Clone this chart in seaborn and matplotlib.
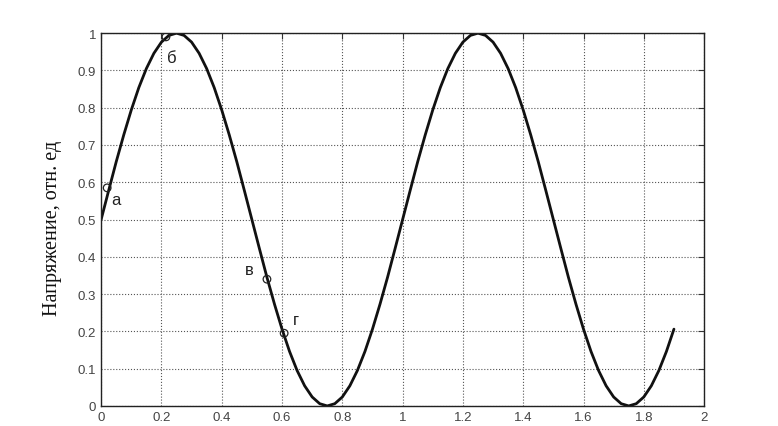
import numpy as np
import pandas as pd
import matplotlib
matplotlib.use('Agg')
import matplotlib.pyplot as plt
import seaborn as sns

## данные
t = [0.0, 0.025, 0.05, 0.075, 0.1, 0.125, 0.15, 0.175, 0.2, 0.225,
     0.25, 0.275, 0.3, 0.325, 0.35, 0.375, 0.4, 0.425, 0.45, 0.475,
     0.5, 0.525, 0.55, 0.575, 0.6, 0.625, 0.65, 0.675, 0.7, 0.725,
     0.75, 0.775, 0.8, 0.825, 0.85, 0.875, 0.9, 0.925, 0.95, 0.975,
     1.0, 1.025, 1.05, 1.075, 1.1, 1.125, 1.15, 1.175, 1.2, 1.225,
     1.25, 1.275, 1.3, 1.325, 1.35, 1.375, 1.4, 1.425, 1.45, 1.475,
     1.5, 1.525, 1.55, 1.575, 1.6, 1.625, 1.65, 1.675, 1.7, 1.725,
     1.75, 1.775, 1.8, 1.825, 1.85, 1.875, 1.9]
u = [0.5, 0.578, 0.655, 0.727, 0.794, 0.854, 0.905, 0.946, 0.976, 0.994,
     1.0, 0.994, 0.976, 0.946, 0.905, 0.854, 0.794, 0.727, 0.655, 0.578,
     0.5, 0.422, 0.345, 0.273, 0.206, 0.146, 0.095, 0.054, 0.024, 0.006,
     0.0, 0.006, 0.024, 0.054, 0.095, 0.146, 0.206, 0.273, 0.345, 0.422,
     0.5, 0.578, 0.655, 0.727, 0.794, 0.854, 0.905, 0.946, 0.976, 0.994,
     1.0, 0.994, 0.976, 0.946, 0.905, 0.854, 0.794, 0.727, 0.655, 0.578,
     0.5, 0.422, 0.345, 0.273, 0.206, 0.146, 0.095, 0.054, 0.024, 0.006,
     0.0, 0.006, 0.024, 0.054, 0.095, 0.146, 0.206]

## отмеченные точки
tochki_t = [0.02, 0.215, 0.55, 0.607]
tochki_u = [0.585, 0.99, 0.34, 0.195]
tochki_nazv = ['а', 'б', 'в', 'г']

xticks = [0, 0.2, 0.4, 0.6, 0.8, 1, 1.2, 1.4, 1.6, 1.8, 2]
xlabels = ['0', '0.2', '0.4', '0.6', '0.8', '1', '1.2', '1.4', '1.6', '1.8', '2']
yticks = [0, 0.1, 0.2, 0.3, 0.4, 0.5, 0.6, 0.7, 0.8, 0.9, 1]
ylabels = ['0', '0.1', '0.2', '0.3', '0.4', '0.5', '0.6', '0.7', '0.8', '0.9', '1']

df = pd.DataFrame({'t': t, 'u': u})

sns.set_style('white')
plt.rcParams['font.family'] = ['Liberation Sans', 'DejaVu Sans']

fig = plt.figure(figsize=(7.78, 4.27), dpi=100)
ax = fig.add_axes([0.13, 0.047, 0.775, 0.873])

sns.lineplot(data=df, x='t', y='u', sort=False, color='#111111',
             linewidth=2.0, ax=ax)
sns.scatterplot(x=tochki_t, y=tochki_u, marker='o', s=30,
                facecolor='none', edgecolor='#222222', linewidth=0.9,
                zorder=5, ax=ax)

## подписи точек
smesh = [(0.03, -0.03), (0.02, -0.055), (-0.06, 0.027), (0.038, 0.038)]
for xx, yy, nm, (dx, dy) in zip(tochki_t, tochki_u, tochki_nazv, smesh):
    ax.text(xx + dx, yy + dy, nm, fontsize=12, color='#222222',
            ha='center', va='center')

ax.set_xlim(0, 2)
ax.set_ylim(0, 1)
ax.set_xticks(xticks)
ax.set_xticklabels(xlabels)
ax.set_yticks(yticks)
ax.set_yticklabels(ylabels)
ax.grid(True, linestyle=':', color='#555555', linewidth=0.8)
ax.tick_params(direction='in', length=4, labelsize=9.5, colors='#333333',
               top=True, right=True, labelcolor='#444444')
for sp in ax.spines.values():
    sp.set_visible(True)
    sp.set_color('#222222')
    sp.set_linewidth(1.0)

ax.set_xlabel('')
ax.set_ylabel('Напряжение, отн. ед', family=['Liberation Serif'],
              fontsize=14.5, color='#111111', va='center')
ax.yaxis.set_label_coords(-0.081, 0.48)

fig.savefig('out.png', dpi=100)
